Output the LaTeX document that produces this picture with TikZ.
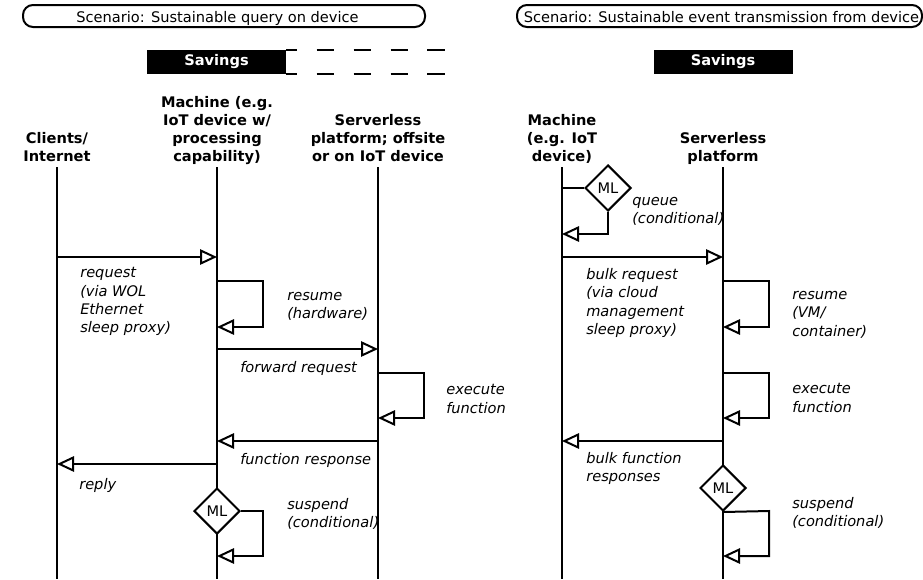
\documentclass[tikz,border=0pt,11pt]{standalone}
\usepackage{fontspec}
\setmainfont{DejaVu Sans}
\usepackage{tikz}
\usetikzlibrary{arrows.meta,shapes.geometric}
\tikzset{
    every node/.style={align=center,},
    scenario/.style={draw,rectangle,rounded corners=7.5pt,line width=1.5pt,minimum height=16.5pt,inner sep=0pt,},
    savings/.style={fill=black,text=white,font=\bfseries,minimum width=104.25pt,minimum height=18pt,inner sep=0pt,},
    savedash/.style={line width=1.5pt,dash pattern=on 13.1pt off 14.6pt,dash phase=4.9pt,},
    actor/.style={font=\bfseries,inner sep=0pt,anchor=south,execute at end node=\strut,},
    lifeline/.style={line width=1.5pt,},
    msg/.style={line width=1.5pt,-{Triangle[open,length=12.75pt,width=11.5pt]},},
    note/.style={font=\itshape,align=left,anchor=north west,inner sep=0pt,execute at begin node=\strut,},
    ml/.style={draw,diamond,fill=white,line width=1.5pt,minimum width=34.5pt,minimum height=34.5pt,inner sep=0pt,},
}

\begin{document}
\begin{tikzpicture}[x=0.75pt,y=-0.75pt]
                \useasboundingbox (0,0) rectangle (923,579);

                % sustainable query on device
                \node[scenario,minimum width=301.5pt] (scen_query) at (224,16) {};
                \node[anchor=base,inner sep=0pt] (scen_query_text) at (217.5,22) {Scenario: Sustainable query on device};
                \node[savings] (sav_query) at (216.5,62) {Savings};
                \draw[savedash] (sav_query.north east) -- ++(161,0) -- ++(0,4);
                \draw[savedash] (sav_query.south east) -- ++(161,0) -- ++(0,-4);

                \node[actor] (clients) at (57,167.4) {Clients/\\Internet};
                \node[actor] (machine_q) at (217,167.4) {Machine (e.g.\\IoT device w/\\processing\\capability)};
                \node[actor] (server_q) at (378,167.4) {Serverless\\platform; offsite\\or on IoT device};
                \coordinate (clients_end) at (57,579);
                \coordinate (machine_q_end) at (217,579);
                \coordinate (server_q_end) at (378,579);
                \draw[lifeline] (clients.south) -- (clients_end);
                \draw[lifeline] (machine_q.south) -- (machine_q_end);
                \draw[lifeline] (server_q.south) -- (server_q_end);

                \coordinate (cl_req) at (57,257);
                \coordinate (mq_req) at (217,257);
                \coordinate (mq_res_a) at (217,281);
                \coordinate (mq_res_c) at (263,281);
                \coordinate (mq_res_b) at (217,327);
                \coordinate (mq_fwd) at (217,349);
                \coordinate (sq_fwd) at (378,349);
                \coordinate (sq_exe_a) at (378,373);
                \coordinate (sq_exe_c) at (424,373);
                \coordinate (sq_exe_b) at (378,418);
                \coordinate (sq_resp) at (378,441);
                \coordinate (mq_resp) at (217,441);
                \coordinate (mq_reply) at (217,464);
                \coordinate (cl_reply) at (57,464);
                \coordinate (mq_sus_c) at (263,511);
                \coordinate (mq_sus_b) at (217,556);

                \draw[msg] (cl_req) -- (mq_req);
                \draw[msg] (mq_res_a) -- (mq_res_c) |- (mq_res_b);
                \draw[msg] (mq_fwd) -- (sq_fwd);
                \draw[msg] (sq_exe_a) -- (sq_exe_c) |- (sq_exe_b);
                \draw[msg] (sq_resp) -- (mq_resp);
                \draw[msg] (mq_reply) -- (cl_reply);
                \node[ml] (ml_query) at (217,511) {ML};
                \draw[msg] (ml_query.east) -- (mq_sus_c) |- (mq_sus_b);

                \node[note] (n_request) at (80,267.4) {request\\(via WOL\\Ethernet\\sleep proxy)};
                \node[note] (n_resume_q) at (287,292.4) {resume\\(hardware)};
                \node[note] (n_forward) at (240,359.4) {forward request};
                \node[note] (n_execute_q) at (446,384.4) {execute\\function};
                \node[note] (n_response) at (240,451.4) {function response};
                \node[note] (n_reply) at (79,476.4) {reply};
                \node[note] (n_suspend_q) at (287,498.4) {suspend\\(conditional)};

                % sustainable event transmission from device
                \node[scenario,minimum width=303.75pt] (scen_event) at (719.5,16) {};
                \node[anchor=base,inner sep=0pt] (scen_event_text) at (721.5,22) {Scenario: Sustainable event transmission from device};
                \node[savings] (sav_event) at (723,62) {Savings};

                \node[actor] (machine_e) at (562,167.4) {Machine\\(e.g. IoT\\device)};
                \node[actor] (server_e) at (723,167.4) {Serverless\\platform};
                \coordinate (machine_e_end) at (562,579);
                \coordinate (server_e_end) at (723,579);
                \draw[lifeline] (machine_e.south) -- (machine_e_end);
                \draw[lifeline] (server_e.south) -- (server_e_end);

                \coordinate (me_ml) at (562,188);
                \coordinate (me_queue) at (562,234);
                \coordinate (me_req) at (562,257);
                \coordinate (se_req) at (723,257);
                \coordinate (se_res_a) at (723,281);
                \coordinate (se_res_c) at (769,281);
                \coordinate (se_res_b) at (723,327);
                \coordinate (se_exe_a) at (723,373);
                \coordinate (se_exe_c) at (769,373);
                \coordinate (se_exe_b) at (723,418);
                \coordinate (se_resp) at (723,441);
                \coordinate (me_resp) at (562,441);
                \coordinate (se_sus_c) at (769,511);
                \coordinate (se_sus_b) at (723,556);

                \node[ml] (ml_event_q) at (608,188) {ML};
                \draw[lifeline] (me_ml) -- (ml_event_q.west);
                \draw[msg] (ml_event_q.south) |- (me_queue);
                \draw[msg] (me_req) -- (se_req);
                \draw[msg] (se_res_a) -- (se_res_c) |- (se_res_b);
                \draw[msg] (se_exe_a) -- (se_exe_c) |- (se_exe_b);
                \draw[msg] (se_resp) -- (me_resp);
                \node[ml] (ml_event_s) at (723,488) {ML};
                \draw[msg] (ml_event_s.south) -- (se_sus_c) |- (se_sus_b);

                \node[note] (n_queue) at (632,197.4) {queue\\(conditional)};
                \node[note] (n_bulk_req) at (586,268.4) {bulk request\\(via cloud\\management\\sleep proxy)};
                \node[note] (n_resume_e) at (792,291.4) {resume\\(VM/\\container)};
                \node[note] (n_execute_e) at (792,383.4) {execute\\function};
                \node[note] (n_bulk_resp) at (586,452.4) {bulk function\\responses};
                \node[note] (n_suspend_e) at (792,497.4) {suspend\\(conditional)};
            \end{tikzpicture}
\end{document}
